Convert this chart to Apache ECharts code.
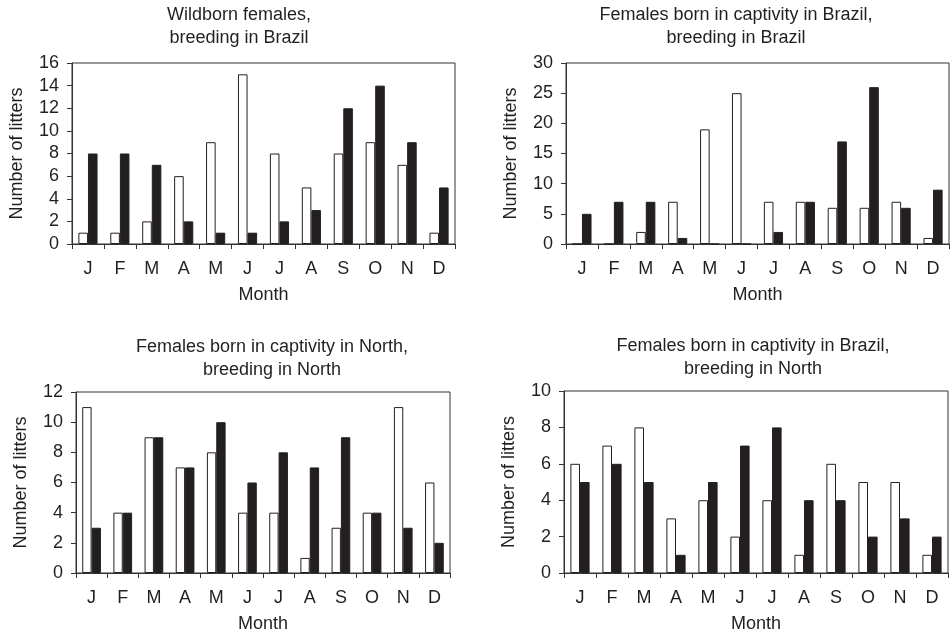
<!DOCTYPE html>
<html>
<head>
<meta charset="utf-8">
<script src="https://cdn.jsdelivr.net/npm/echarts@6/dist/echarts.min.js"></script>
<style>
html,body{margin:0;padding:0;background:#fff;}
#chart{width:951px;height:636px;}
</style>
</head>
<body>
<div id="chart"></div>
<script>
const months = ['J','F','M','A','M','J','J','A','S','O','N','D'];

const titles = [
  'Wildborn females,\nbreeding in Brazil',
  'Females born in captivity in Brazil,\nbreeding in Brazil',
  'Females born in captivity in North,\nbreeding in North',
  'Females born in captivity in Brazil,\nbreeding in North'
];

const p1White = [1, 1, 2, 6, 9, 15, 8, 5, 8, 9, 7, 1];
const p1Black = [8, 8, 7, 2, 1, 1, 2, 3, 12, 14, 9, 5];

const p2White = [0, 0, 2, 7, 19, 25, 7, 7, 6, 6, 7, 1];
const p2Black = [5, 7, 7, 1, 0, 0, 2, 7, 17, 26, 6, 9];

const p3White = [11, 4, 9, 7, 8, 4, 4, 1, 3, 4, 11, 6];
const p3Black = [3, 4, 9, 7, 10, 6, 8, 7, 9, 4, 3, 2];

const p4White = [6, 7, 8, 3, 4, 2, 4, 1, 6, 5, 5, 1];
const p4Black = [5, 6, 5, 1, 5, 7, 8, 4, 4, 2, 3, 2];

const yMax = [16, 30, 12, 10];
const yInterval = [2, 5, 2, 2];

const whiteData = [p1White, p2White, p3White, p4White];
const blackData = [p1Black, p2Black, p3Black, p4Black];

const INK = '#231f20';
const FONT = "'Liberation Sans', Arial, Helvetica, sans-serif";

const grids = [
  {left: 72, top: 63, width: 383, height: 181},
  {left: 566, top: 63, width: 383, height: 181},
  {left: 76, top: 392, width: 374, height: 181},
  {left: 564, top: 391, width: 384, height: 182}
];
const titlePos = [[239, 27], [736, 27], [272, 359], [753, 358]];

const option = {
  backgroundColor: '#fff',
  animation: false,
  textStyle: {fontFamily: FONT},
  grid: grids.map(g => Object.assign({show: true, borderColor: '#333', borderWidth: 1, containLabel: false, outerBoundsMode: 'none'}, g)),
  graphic: titles.map((t, i) => ({
    type: 'text',
    x: titlePos[i][0], y: titlePos[i][1],
    style: {text: t, font: '18px ' + FONT, fill: INK, textAlign: 'center', textVerticalAlign: 'middle', lineHeight: 23}
  })),
  xAxis: grids.map((g, i) => ({
    type: 'category', gridIndex: i, data: months,
    name: 'Month', nameLocation: 'middle', nameGap: 42,
    nameTextStyle: {fontSize: 18, color: INK, fontFamily: FONT},
    axisLine: {show: true, lineStyle: {color: '#333', width: 1}},
    axisTick: {show: true, inside: false, length: 5, lineStyle: {color: '#333'}},
    axisLabel: {fontSize: 18, color: INK, margin: 16, fontFamily: FONT, interval: 0},
    splitLine: {show: false}
  })),
  yAxis: grids.map((g, i) => ({
    type: 'value', gridIndex: i, min: 0, max: yMax[i], interval: yInterval[i],
    name: 'Number of litters', nameLocation: 'middle', nameGap: 46,
    nameTextStyle: {fontSize: 18, color: INK, fontFamily: FONT},
    axisLine: {show: true, lineStyle: {color: '#333', width: 1}},
    axisTick: {show: true, inside: false, length: 5, lineStyle: {color: '#333'}},
    axisLabel: {fontSize: 18, color: INK, margin: 13, fontFamily: FONT},
    splitLine: {show: false}
  })),
  series: []
};

for (let i = 0; i < 4; i++) {
  option.series.push({
    type: 'bar', xAxisIndex: i, yAxisIndex: i, data: whiteData[i],
    barWidth: '30%', barGap: '0%',
    itemStyle: {color: '#fff', borderColor: INK, borderWidth: 1}
  });
  option.series.push({
    type: 'bar', xAxisIndex: i, yAxisIndex: i, data: blackData[i],
    barWidth: '30%', barGap: '0%',
    itemStyle: {color: INK, borderColor: INK, borderWidth: 1}
  });
}

const chart = echarts.init(document.getElementById('chart'), null, {renderer: 'canvas'});
chart.setOption(option);
</script>
</body>
</html>
